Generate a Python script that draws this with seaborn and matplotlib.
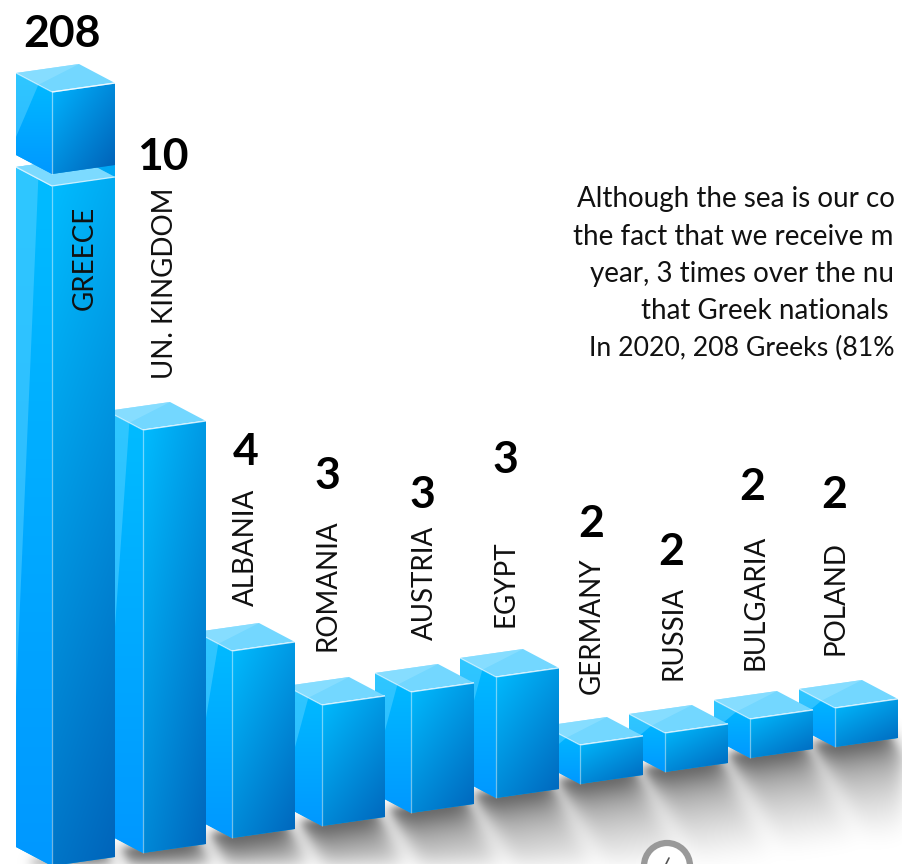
import numpy as np
import pandas as pd
import matplotlib
matplotlib.use("Agg")
import matplotlib.pyplot as plt
from matplotlib.colors import to_rgb
from matplotlib.patches import Circle, Polygon
from matplotlib.transforms import Affine2D, IdentityTransform
import seaborn as sns

# Visitors drowned at sea, by country of origin
countries = ["GREECE", "UN. KINGDOM", "ALBANIA", "ROMANIA", "AUSTRIA",
             "EGYPT", "GERMANY", "RUSSIA", "BULGARIA", "POLAND"]
deaths = [208, 10, 4, 3, 3, 3, 2, 2, 2, 2]

# The vertical axis is compressed: value stops and the drawn height for each
scale_values = [0, 2, 3, 4, 10, 208, 300]
scale_heights = [0, 39, 121, 187, 423, 774, 864]

# Stage layout in pixels from the top-left corner
front_x = [52, 143, 232, 322, 411, 496, 580, 665, 750, 835]
floor_y = [866, 853, 838, 826, 813, 798, 784, 772, 758, 747]
value_xy = [(62, 34), (163, 157), (246, 452), (327, 476), (422, 495),
            (505, 460), (591, 524), (671, 552), (752, 487), (834, 495)]
name_xy = [(85, 258), (165, 283), (246, 547), (328, 585), (425, 583),
           (506, 584), (592, 626), (673, 633), (755, 602), (835, 598)]
note_lines = ["Although the sea is our co", "the fact that we receive m",
              "year, 3 times over the nu", "that Greek nationals",
              "In 2020, 208 Greeks (81%"]
note_xy = [(577, 199), (573, 237), (590, 274), (641, 311), (589, 348)]
note_sizes = [20, 20, 20, 20, 19.2]

W, H = 903, 864
FACE_W = 63
RISE = 9
SIDE = (36, 19)
CUBE_H = 82
CUBE_GAP = 12

sns.set_theme(style="white")
plt.rcParams["font.family"] = ["Lato", "DejaVu Sans"]
fig = plt.figure(figsize=(W / 100, H / 100), dpi=100, facecolor="white")
ax = fig.add_axes([0, 0, 1, 1])

df = pd.DataFrame({"country": countries, "deaths": deaths})
sns.barplot(data=df, x="country", y="deaths", color="#00a8f5", saturation=1,
            width=FACE_W / (W / len(countries)), errorbar=None, ax=ax)
ax.set_yscale("function", functions=(
    lambda v: np.interp(v, scale_values, scale_heights),
    lambda h: np.interp(h, scale_heights, scale_values)))
ax.set_ylim(0, scale_values[-1])
ax.set_xlim(-0.5, len(countries) - 0.5)
ax.set_autoscale_on(False)
ax.axis("off")

PX = IdentityTransform()


def P(x, y):
    return (x, H - y)


def blur(a, sigma):
    r = int(3 * sigma)
    k = np.exp(-0.5 * (np.arange(-r, r + 1) / sigma) ** 2)
    k /= k.sum()
    a = np.apply_along_axis(lambda m: np.convolve(m, k, "same"), 0, a)
    return np.apply_along_axis(lambda m: np.convolve(m, k, "same"), 1, a)


def gradient(c0, c1, a, b, n=80):
    u, v = np.meshgrid(np.linspace(0, 1, n), np.linspace(0, 1, n))
    t = np.clip(a * u + b * v, 0, 1)[..., None]
    return (1 - t) * np.array(to_rgb(c0)) + t * np.array(to_rgb(c1))


def shade(path, trans, x0, x1, ytop, ybot, c0, c1, a, b, z):
    im = ax.imshow(gradient(c0, c1, a, b), extent=(x0, x1, H - ybot, H - ytop),
                   origin="upper", aspect="auto", interpolation="bilinear",
                   transform=PX, zorder=z)
    im.set_clip_path(path, trans)
    return im


def poly(points, z, **kw):
    p = Polygon([P(*q) for q in points], closed=True, transform=PX, zorder=z,
                clip_on=False, linewidth=0, **kw)
    ax.add_patch(p)
    return p


def edge(a, b, z, alpha=0.55):
    ax.plot(*zip(P(*a), P(*b)), color="white", lw=0.9, alpha=alpha, transform=PX,
            zorder=z, clip_on=False, solid_capstyle="butt")


def box(mx, ytop, ybot, z):
    """Left and top faces of a box whose front-left edge runs ytop..ybot at mx."""
    dx, dy = SIDE
    lx = mx - dx
    rx = mx + FACE_W
    # left face with its pale sheen
    left = poly([(lx, ytop - dy), (mx, ytop), (mx, ybot), (lx, ybot - dy)], z,
                facecolor="#00a8ff")
    shade(left.get_path(), left.get_transform(), lx, mx, ytop - dy, ybot,
          "#00bcff", "#0098ff", 0.0, 1.0, z + 0.1)
    h = ybot - ytop
    poly([(lx, ytop - dy), (lx + dx * 0.62, ytop - dy * 0.38),
          (lx, ytop - dy + 0.78 * h)], z + 0.2, facecolor="#5cd2ff", alpha=0.5)
    # top face with its lighter corner
    back = (lx + FACE_W, ytop - dy - RISE)
    poly([(lx, ytop - dy), back, (rx, ytop - RISE), (mx, ytop)], z + 0.3,
         facecolor="#73d7ff")
    poly([(lx, ytop - dy), back, (lx + dx * 0.62, ytop - dy * 0.38)], z + 0.35,
         facecolor="#8fe0ff", alpha=0.7)
    edge((lx, ytop - dy), (mx, ytop), z + 0.6)
    edge((mx, ytop), (rx, ytop - RISE), z + 0.6, 0.75)


# Floor shadow: a long soft cast with a darker contact line at each bar's foot
yy, xx = np.mgrid[0:H, 0:W]
cast = np.zeros((H, W))
contact = np.zeros((H, W))
for mx, fy in zip(front_x, floor_y):
    ex, ey = FACE_W + 12, -RISE - 2
    ox, oy = mx - 22, fy - 5
    dx, dy = 58, 105
    det = ex * dy - ey * dx
    s = ((xx - ox) * dy - (yy - oy) * dx) / det
    t = (ex * (yy - oy) - ey * (xx - ox)) / det
    inside = (s >= 0) & (s <= 1) & (t >= 0) & (t <= 1)
    fade = 1 - np.clip(t, 0, 1)
    cast = np.maximum(cast, inside * fade ** 1.3)
    contact = np.maximum(contact, inside * fade ** 7)
density = 0.48 * blur(cast, 9) + 0.4 * blur(contact, 4)
rgba = np.zeros((H, W, 4))
rgba[..., 3] = np.clip(density, 0, 1)
ax.imshow(rgba, extent=(0, W, 0, H), origin="upper", aspect="auto",
          interpolation="bilinear", transform=PX, zorder=1)

# Turn each seaborn bar into the sheared front face of a box, right to left
bars = list(ax.patches)
for i, bar in reversed(list(enumerate(bars))):
    z = 10 + 5 * (len(bars) - i)
    mx, fy = front_x[i], floor_y[i]
    x0, y0 = ax.transData.transform((bar.get_x(), bar.get_y()))
    _, y1 = ax.transData.transform((bar.get_x(), bar.get_height()))
    height = y1 - y0
    slope = RISE / FACE_W
    shear = (Affine2D().translate(-x0, -y0)
             + Affine2D.from_values(1, slope, 0, 1, 0, 0)
             + Affine2D().translate(mx, H - fy))
    bar.set_transform(ax.transData + shear)
    bar.set_clip_on(False)
    bar.set_zorder(z + 1)
    bar.set_linewidth(0)
    bar_path, bar_trans = bar.get_path(), bar.get_transform()
    ytop = fy - height
    if i == 0:
        # The off-scale bar is broken: a lower column topped by a detached cube
        low_top = ytop + CUBE_H + CUBE_GAP
        box(mx, low_top, fy, z)
        shade(bar_path, bar_trans, mx, mx + FACE_W, low_top - RISE, fy,
              "#00bcff", "#0064ba", 0.2, 0.8, z + 1.1)
        # the cube hides the part of the front face above the column's top
        poly([(mx - SIDE[0], low_top - SIDE[1]),
              (mx - SIDE[0] + FACE_W, low_top - SIDE[1] - RISE),
              (mx + FACE_W, low_top - RISE), (mx, low_top)], z + 1.3, facecolor="#73d7ff")
        poly([(mx - SIDE[0], low_top - SIDE[1]),
              (mx - SIDE[0] + FACE_W, low_top - SIDE[1] - RISE),
              (mx + FACE_W, low_top - RISE), (mx, low_top)], z + 1.35, facecolor="#8fe0ff", alpha=0.35)
        edge((mx, low_top), (mx, fy), z + 1.6, 0.45)
        edge((mx, low_top), (mx + FACE_W, low_top - RISE), z + 1.6, 0.7)
        edge((mx - SIDE[0], low_top - SIDE[1]), (mx, low_top), z + 1.6, 0.6)
        cz = z + 2
        cube_bot = ytop + CUBE_H
        box(mx, ytop, cube_bot, cz)
        front = poly([(mx, ytop), (mx + FACE_W, ytop - RISE),
                      (mx + FACE_W, cube_bot - RISE), (mx, cube_bot)], cz + 0.4,
                     facecolor="#0090e0")
        shade(front.get_path(), front.get_transform(), mx, mx + FACE_W, ytop - RISE, cube_bot,
              "#00b4ff", "#0060b6", 0.5, 0.5, cz + 0.45)
        edge((mx, ytop), (mx + FACE_W, ytop - RISE), cz + 0.6, 0.75)
        edge((mx, ytop), (mx, cube_bot), cz + 0.6, 0.5)
    else:
        box(mx, ytop, fy, z)
        shade(bar_path, bar_trans, mx, mx + FACE_W, ytop - RISE, fy,
              "#00bcff", "#0066bc", 0.4, 0.6, z + 1.1)
        edge((mx, ytop), (mx, fy), z + 1.6, 0.45)
        edge((mx, ytop), (mx + FACE_W, ytop - RISE), z + 1.6, 0.75)

# Values and rotated country names above the bars
for v, name, (vx, vy), (nx, ny) in zip(deaths, countries, value_xy, name_xy):
    ax.text(*P(vx, vy), str(v), transform=PX, ha="center", va="center",
            fontsize=32, fontweight="bold", color="black", zorder=200, clip_on=False)
    ax.text(*P(nx, ny), name, transform=PX, ha="center", va="center", rotation=90,
            fontsize=20, color="#111111", zorder=200, clip_on=False)

# Commentary running off the right-hand edge
for line, (x, y), size in zip(note_lines, note_xy, note_sizes):
    ax.text(*P(x, y), line, transform=PX, ha="left", va="center",
            fontsize=size, color="#111111", zorder=200, clip_on=False)

# Page-turn button peeking up from the lower edge
ax.add_patch(Circle(P(667, 866), 23, transform=PX, facecolor="white", edgecolor="#999999",
                    linewidth=4.5, zorder=150, clip_on=False))
ax.plot(*zip(P(669, 858), P(666, 864)), color="#555555", lw=1.2, transform=PX, zorder=151,
        clip_on=False)

fig.savefig("out.png", dpi=100)
